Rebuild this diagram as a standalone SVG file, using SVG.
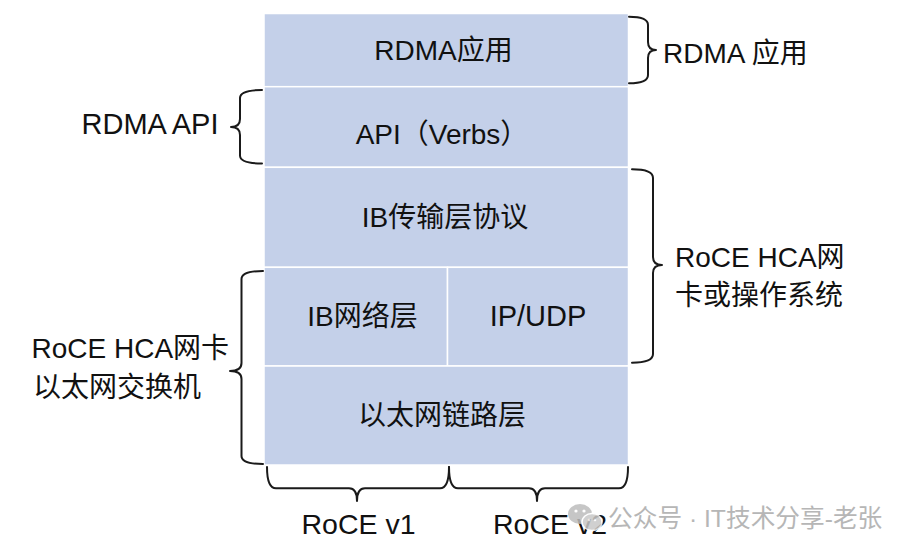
<svg xmlns="http://www.w3.org/2000/svg" width="912" height="554" viewBox="0 0 912 554">
<style>
.cell{fill:#c4d0e9;stroke:#ffffff;stroke-width:1.5}
.t{font-family:"Liberation Sans","Noto Sans CJK SC",sans-serif;font-size:28px;fill:#111}
.c{text-anchor:middle}
.brace{fill:none;stroke:#1a1a1a;stroke-width:2;stroke-linejoin:round;stroke-linecap:round}
.wm{font-family:"Liberation Sans","Noto Sans CJK SC",sans-serif;font-size:24.7px;fill:#aaaaaa}
</style>
<rect width="912" height="554" fill="#ffffff"/>
<g id="stack">
<g id="app"><rect class="cell" x="264" y="13.5" width="364.5" height="73.2"/><text class="t c" x="443.5" y="60">RDMA应用</text></g>
<g id="api"><rect class="cell" x="264" y="86.7" width="364.5" height="80.6"/><text class="t c" x="442" y="144">API（Verbs）</text></g>
<g id="ibtransport"><rect class="cell" x="264" y="167.3" width="364.5" height="100"/><text class="t c" x="445" y="226.5">IB传输层协议</text></g>
<g id="ibnet"><rect class="cell" x="264" y="267.3" width="183.5" height="98.7"/><text class="t c" x="362.5" y="325.5">IB网络层</text></g>
<g id="ipudp"><rect class="cell" x="447.5" y="267.3" width="181" height="98.7"/><text class="t c" x="538" y="325.5" style="font-size:29px">IP/UDP</text></g>
<g id="eth"><rect class="cell" x="264" y="366" width="364.5" height="99"/><text class="t c" x="442" y="425">以太网链路层</text></g>
</g>
<g id="connectors">
<path class="brace" d="M629 16.7 Q648 16.7 648 25 L648 42 Q648 50 656 50 Q648 50 648 58 L648 75 Q648 83.3 629 83.3"/>
<path class="brace" d="M632 169.3 Q653 169.3 653 178 L653 257 Q653 265 662 265 Q653 265 653 273 L653 354 Q653 362.7 632 362.7"/>
<path class="brace" d="M262 90 Q240 90 240 98 L240 119 Q240 127 231 127 Q240 127 240 135 L240 155.5 Q240 163.5 262 163.5"/>
<path class="brace" d="M263 271 Q241.5 271 241.5 279 L241.5 363 Q241.5 371 230 371 Q241.5 371 241.5 379 L241.5 456 Q241.5 464 263 464"/>
<path class="brace" d="M267 467 Q267 488.3 276 488.3 L349 488.3 Q357 488.3 357 501 Q357 488.3 365 488.3 L440 488.3 Q449 488.3 449 467"/>
<path class="brace" d="M449 467 Q449 488.3 458 488.3 L529 488.3 Q537 488.3 537 501 Q537 488.3 545 488.3 L619 488.3 Q628 488.3 628 467"/>
</g>
<g id="labels">
<text class="t" x="663" y="63">RDMA 应用</text>
<text class="t" x="81.5" y="133.5" style="font-size:29px">RDMA API</text>
<text class="t" x="675" y="267">RoCE HCA网</text>
<text class="t" x="675" y="305">卡或操作系统</text>
<text class="t" x="31.5" y="357.5">RoCE HCA网卡</text>
<text class="t" x="33" y="397">以太网交换机</text>
<text class="t" x="301.5" y="533.5" style="font-size:28.5px">RoCE v1</text>
<text class="t" x="493" y="533.5" style="font-size:28.5px">RoCE v2</text>
</g>
<g id="watermark" opacity="0.85">
<ellipse cx="580" cy="514" rx="12" ry="10" fill="#bdbdbd"/>
<ellipse cx="592" cy="522" rx="10" ry="8.5" fill="#c8c8c8" stroke="#ffffff" stroke-width="1.5"/>
<circle cx="576" cy="511" r="1.6" fill="#ffffff"/>
<circle cx="584" cy="511" r="1.6" fill="#ffffff"/>
<circle cx="589" cy="520" r="1.3" fill="#ffffff"/>
<circle cx="595" cy="520" r="1.3" fill="#ffffff"/>
<text class="wm" x="608" y="527">公众号 · IT技术分享-老张</text>
</g>
</svg>
